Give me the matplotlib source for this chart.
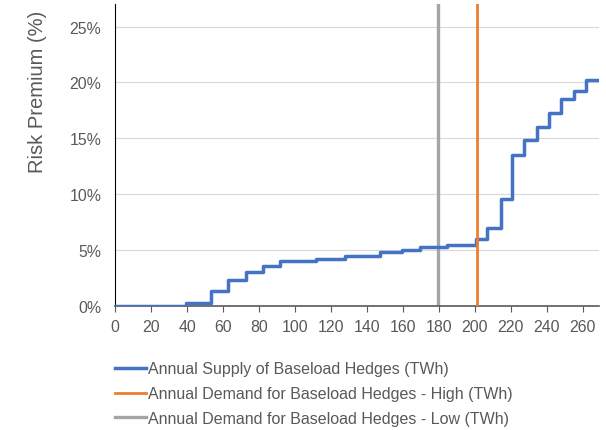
import matplotlib.pyplot as plt
from matplotlib.ticker import FuncFormatter
import numpy as np

# step edges (TWh) and risk premium (%) of the supply curve
supply_x = [0, 39.4, 53.3, 62.9, 72.6, 82.4, 91.8, 111.6, 127.8, 147.2, 159.6, 169.4,
            184.6, 200.6, 206.9, 214.3, 220.6, 227.4, 234.4, 241.3, 248.1, 255.2, 262.0, 268.9]
supply_y = [0, 0.3, 1.3, 2.3, 3.06, 3.54, 4.0, 4.2, 4.5, 4.8, 5.0, 5.24,
            5.47, 5.98, 7.0, 9.55, 13.5, 14.8, 16.0, 17.3, 18.5, 19.2, 20.2, 20.2]
demand_high = 201
demand_low = 179.5

x_ticks = list(range(0, 261, 20))
y_ticks = [0, 5, 10, 15, 20, 25]

plt.rcParams['font.family'] = ['Liberation Sans', 'DejaVu Sans']
txt = '#595959'

fig = plt.figure(figsize=(6.06, 4.31), dpi=100)
ax = fig.add_axes([0.19, 0.288, 0.798, 0.70])

ax.step(supply_x, supply_y, where='post', color='#4472C4', lw=2.5,
        label='Annual Supply of Baseload Hedges (TWh)', zorder=3)
ax.axvline(demand_high, color='#ED7D31', lw=2.0,
           label='Annual Demand for Baseload Hedges - High (TWh)', zorder=4)
ax.axvline(demand_low, color='#A5A5A5', lw=2.4,
           label='Annual Demand for Baseload Hedges - Low (TWh)', zorder=2)

ax.set_xlim(0, 268.9)
ax.set_ylim(0, 27)
ax.set_xticks(x_ticks)
ax.set_yticks(y_ticks)
ax.yaxis.set_major_formatter(FuncFormatter(lambda v, p: f'{v:.0f}%'))
ax.grid(axis='y', color='#D9D9D9', lw=0.8)
ax.set_axisbelow(True)

for s in ['top', 'right']:
    ax.spines[s].set_visible(False)
ax.spines['left'].set_color('#000000')
ax.spines['bottom'].set_color('#595959')
ax.spines['bottom'].set_linewidth(1.2)
ax.tick_params(axis='both', colors=txt, labelsize=11.4)
ax.tick_params(axis='x', color='#595959', length=4, pad=5.5)
ax.tick_params(axis='y', length=0, pad=10)

ax.set_ylabel('Risk Premium (%)', fontsize=14.5, color=txt)
ax.yaxis.set_label_coords(-0.14, 0.712)

leg = ax.legend(loc='upper left', bbox_to_anchor=(-0.029, -0.136), frameon=False,
                fontsize=11.5, labelcolor=txt, handlelength=1.9, handletextpad=0.15,
                labelspacing=0.62)

plt.savefig('out.png', dpi=100)
